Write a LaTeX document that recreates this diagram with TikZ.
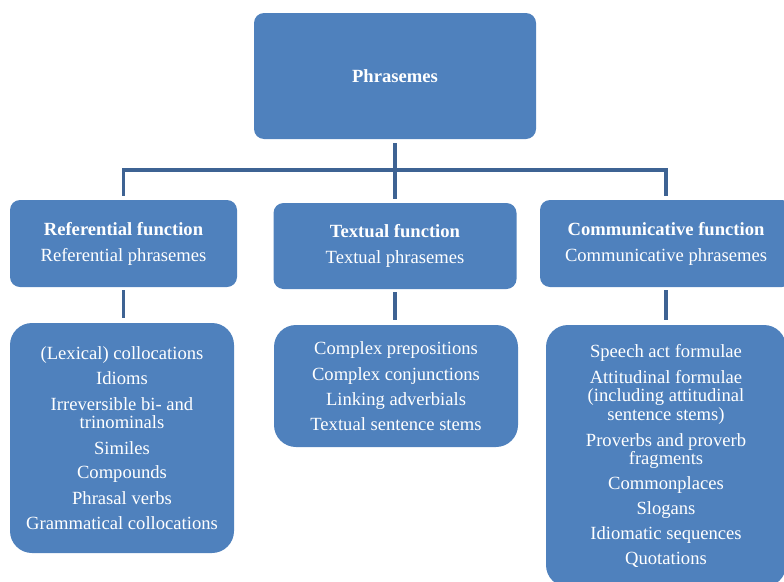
\documentclass[tikz,border=0pt]{standalone}
\usepackage{fontspec}
\setmainfont{Liberation Serif}
\definecolor{boxblue}{RGB}{79,129,189}
\definecolor{linkblue}{RGB}{62,99,147}

\begin{document}
\begin{tikzpicture}[x=1pt,y=-1pt,
        box/.style={fill=boxblue,text=white,align=center,inner sep=0pt,rounded corners=10pt,
            font=\fontsize{18.6}{18.5}\selectfont},
        listbox/.style={box,rounded corners=22pt},
        link/.style={draw=linkblue,line width=3.5pt}]
    \useasboundingbox (0,0) rectangle (784,581);
    \clip (0,0) rectangle (784,581);
    \node[box,minimum width=282pt,minimum height=126pt] (root) at (395,76) {\textbf{Phrasemes}};
    \node[box,minimum width=227pt,minimum height=87pt] (ref) at (123.5,243.5)
        {\textbf{Referential function}\\[7.5pt]Referential phrasemes};
    \node[box,minimum width=243pt,minimum height=86pt] (txt) at (395,246)
        {\textbf{Textual function}\\[7.5pt]Textual phrasemes};
    \node[box,minimum width=252pt,minimum height=87pt] (comm) at (666,243.5)
        {\textbf{Communicative function}\\[7.5pt]Communicative phrasemes};
    \node[listbox,minimum width=224pt,minimum height=230pt] (lref) at (122,438)
        {(Lexical) collocations\\[7pt]Idioms\\[7pt]Irreversible bi- and\\trinominals\\[7pt]Similes\\[6pt]
         Compounds\\[7pt]Phrasal verbs\\[7pt]Grammatical collocations};
    \node[listbox,minimum width=244pt,minimum height=122pt] (ltxt) at (396,386)
        {Complex prepositions\\[7pt]Complex conjunctions\\[6.5pt]Linking adverbials\\[6.5pt]Textual sentence stems};
    \node[listbox,minimum width=240pt,minimum height=262pt] (lcomm) at (666,456)
        {Speech act formulae\\[7.5pt]Attitudinal formulae\\(including attitudinal\\sentence stems)\\[7.5pt]
         Proverbs and proverb\\fragments\\[6.5pt]Commonplaces\\[6.5pt]Slogans\\[6.5pt]Idiomatic sequences\\[6.5pt]Quotations};
    \coordinate (bus) at (395,170);
    \draw[link] ([yshift=-4pt]root.south) -- ([yshift=4pt]txt.north);
    \draw[link] ([yshift=4pt]ref.north) -- (ref.north |- bus) -- (comm.north |- bus) -- ([yshift=4pt]comm.north);
    \draw[link] ([yshift=-3pt]ref.south) -- ([yshift=5pt]ref.south |- lref.north);
    \draw[link] ([yshift=-3pt]txt.south) -- ([yshift=5pt]txt.south |- ltxt.north);
    \draw[link] ([yshift=-3pt]comm.south) -- ([yshift=5pt]comm.south |- lcomm.north);
\end{tikzpicture}
\end{document}
